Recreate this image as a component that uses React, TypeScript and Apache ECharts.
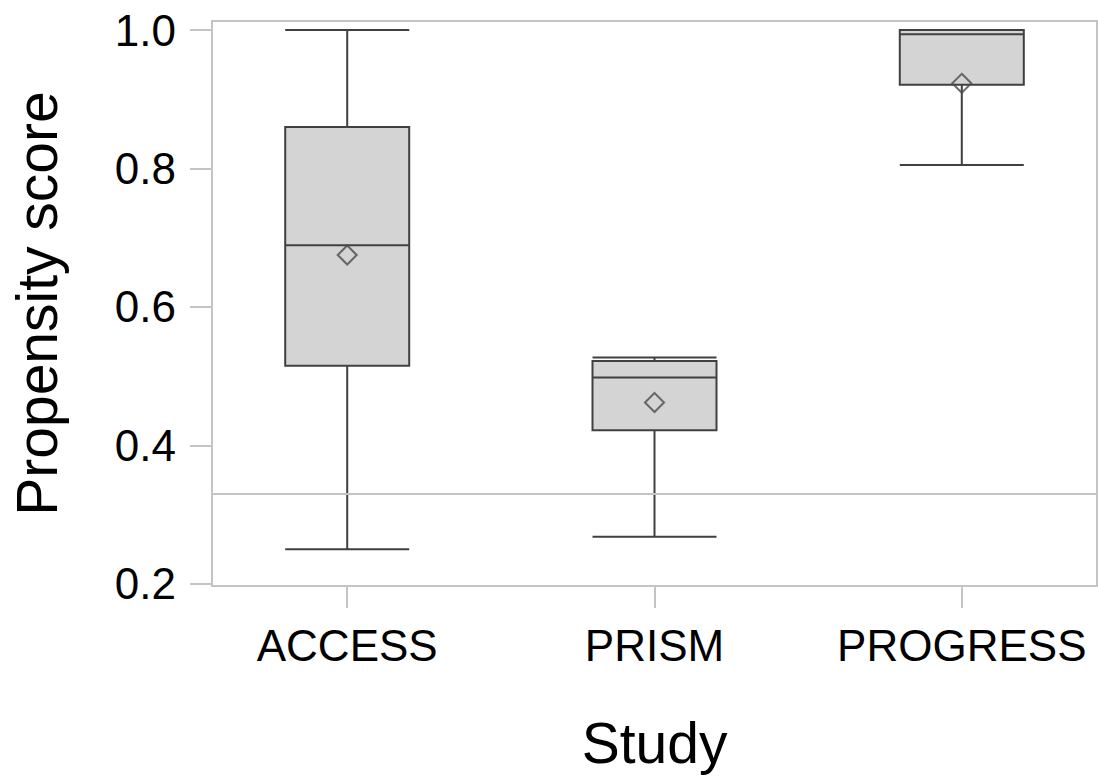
import React, { useEffect, useRef } from "react";
import * as echarts from "echarts";

const categories = ["ACCESS", "PRISM", "PROGRESS"];
// [position, min, Q1, median, Q3, max]
const boxValues = [
  [0, 0.25, 0.515, 0.689, 0.86, 1.0],
  [1, 0.268, 0.422, 0.498, 0.522, 0.527],
  [2, 0.805, 0.921, 0.994, 1.0, 1.0],
];
const meanValues = [
  [0, 0.675],
  [1, 0.462],
  [2, 0.923],
];
const referenceLine = 0.33;
const yTicks = [0.2, 0.4, 0.6, 0.8, 1.0];
const xTicks = [0, 1, 2];

const FONT = "'Liberation Sans', Arial, Helvetica, sans-serif";

export default function App() {
  const ref = useRef<HTMLDivElement>(null);
  useEffect(() => {
    document.body.style.margin = "0";
    if (!ref.current) return;
    const chart = echarts.init(ref.current, undefined, { renderer: "svg" });
    chart.setOption({
      animation: false,
      backgroundColor: "#ffffff",
      grid: {
        left: 209,
        right: 1,
        top: 21,
        bottom: 193,
        show: true,
        borderColor: "#c4c4c4",
        borderWidth: 2,
        backgroundColor: "transparent",
      },
      xAxis: {
        type: "value",
        min: -0.44,
        max: 2.44,
        name: "Study",
        nameLocation: "middle",
        nameGap: 128,
        nameTextStyle: { fontFamily: FONT, fontSize: 57, color: "#000" },
        axisLine: { show: false, onZero: false },
        splitLine: { show: false },
        axisTick: {
          show: true,
          customValues: xTicks,
          length: 22,
          lineStyle: { color: "#c4c4c4", width: 2 },
        },
        axisLabel: {
          customValues: xTicks,
          margin: 37,
          fontFamily: FONT,
          fontSize: 44,
          color: "#000",
          formatter: (v: number) => categories[Math.round(v)] ?? "",
        },
      },
      yAxis: {
        type: "value",
        min: 0.197,
        max: 1.013,
        name: "Propensity score",
        nameLocation: "middle",
        nameGap: 147,
        nameTextStyle: { fontFamily: FONT, fontSize: 57, color: "#000" },
        axisLine: { show: false, onZero: false },
        splitLine: { show: false },
        axisTick: {
          show: true,
          customValues: yTicks,
          length: 22,
          lineStyle: { color: "#c4c4c4", width: 2 },
        },
        axisLabel: {
          customValues: yTicks,
          margin: 36,
          fontFamily: FONT,
          fontSize: 44,
          color: "#000",
          formatter: (v: number) => v.toFixed(1),
        },
      },
      series: [
        {
          type: "boxplot",
          data: boxValues,
          boxWidth: [124, 124],
          itemStyle: {
            color: "#d4d4d4",
            borderColor: "#404040",
            borderWidth: 2,
          },
          markLine: {
            silent: true,
            symbol: "none",
            label: { show: false },
            lineStyle: { color: "#c4c4c4", width: 2, type: "solid" },
            data: [{ yAxis: referenceLine }],
          },
          z: 2,
        },
        {
          type: "scatter",
          data: meanValues,
          symbol: "diamond",
          symbolSize: 19,
          itemStyle: {
            color: "transparent",
            borderColor: "#4a4a4a",
            borderWidth: 2,
          },
          z: 3,
        },
      ],
    });
    return () => chart.dispose();
  }, []);
  return <div ref={ref} style={{ width: 1098, height: 779 }} />;
}
